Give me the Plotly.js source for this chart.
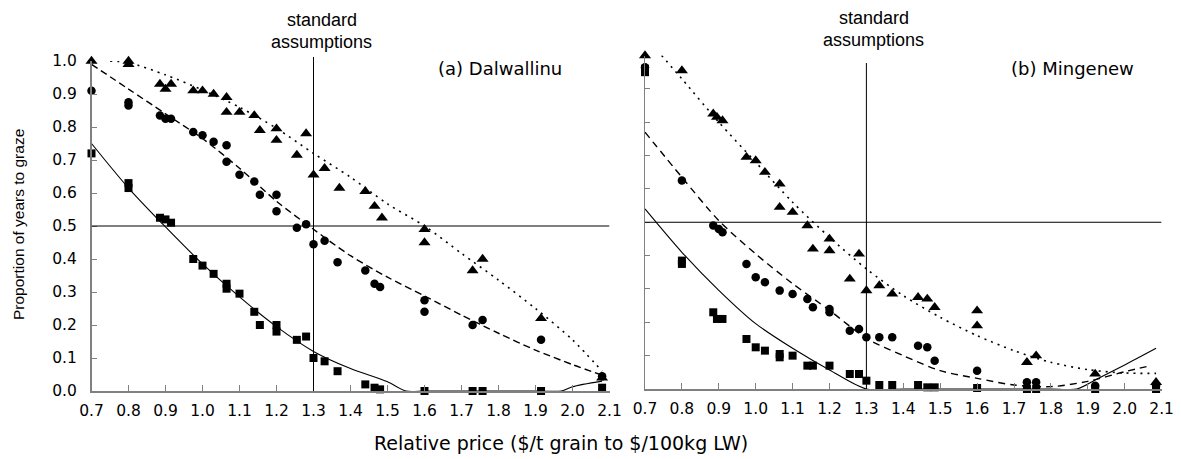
<!DOCTYPE html>
<html><head><meta charset="utf-8">
<script src="https://cdn.plot.ly/plotly-3.0.1.min.js"></script>
<style>html,body{margin:0;padding:0;background:#fff}#chart{width:1181px;height:459px}</style>
</head><body><div id="chart"></div>
<script>
// ---------- (a) Dalwallinu ----------
var dalTriX = [0.70, 0.80, 0.80, 0.885, 0.90, 0.915, 0.975, 1.00, 1.03, 1.065, 1.065, 1.10, 1.14, 1.155, 1.20, 1.20, 1.255, 1.28, 1.30, 1.33, 1.37, 1.44, 1.465, 1.485, 1.60, 1.60, 1.73, 1.757, 1.915, 2.08];
var dalTriY = [1.00, 1.00, 0.99, 0.93, 0.915, 0.93, 0.91, 0.91, 0.90, 0.89, 0.845, 0.845, 0.835, 0.79, 0.795, 0.76, 0.715, 0.78, 0.655, 0.675, 0.615, 0.605, 0.56, 0.525, 0.49, 0.45, 0.365, 0.40, 0.22, 0.04];
var dalCirX = [0.70, 0.80, 0.80, 0.885, 0.90, 0.915, 0.975, 1.00, 1.03, 1.065, 1.065, 1.10, 1.14, 1.155, 1.20, 1.20, 1.255, 1.28, 1.30, 1.33, 1.365, 1.44, 1.465, 1.48, 1.60, 1.60, 1.73, 1.757, 1.915, 2.08];
var dalCirY = [0.91, 0.875, 0.865, 0.835, 0.825, 0.825, 0.785, 0.775, 0.755, 0.745, 0.695, 0.655, 0.635, 0.595, 0.595, 0.545, 0.495, 0.505, 0.445, 0.455, 0.39, 0.365, 0.325, 0.315, 0.275, 0.24, 0.20, 0.215, 0.155, 0.045];
var dalSqX = [0.70, 0.80, 0.80, 0.885, 0.90, 0.915, 0.975, 1.00, 1.03, 1.065, 1.065, 1.10, 1.14, 1.155, 1.20, 1.20, 1.255, 1.28, 1.30, 1.33, 1.365, 1.44, 1.465, 1.48, 1.60, 1.73, 1.757, 1.915, 2.08];
var dalSqY = [0.72, 0.63, 0.615, 0.525, 0.52, 0.51, 0.40, 0.38, 0.355, 0.325, 0.31, 0.295, 0.24, 0.20, 0.20, 0.18, 0.155, 0.165, 0.10, 0.09, 0.06, 0.02, 0.01, 0.005, 0.0, 0.0, 0.0, 0.0, 0.01];
// fitted curves
var dalSolidX = [0.70, 0.80, 0.90, 1.00, 1.10, 1.20, 1.30, 1.40, 1.50, 1.55, 1.60, 1.70, 1.80, 1.90, 1.97, 2.00, 2.08];
var dalSolidY = [0.75, 0.615, 0.497, 0.385, 0.285, 0.195, 0.12, 0.068, 0.028, 0.0, 0.0, 0.0, 0.0, 0.0, 0.0, 0.013, 0.03];
var dalDashX = [0.70, 0.80, 0.90, 1.00, 1.10, 1.20, 1.30, 1.40, 1.50, 1.60, 1.70, 1.80, 1.90, 2.00, 2.08];
var dalDashY = [0.99, 0.915, 0.84, 0.765, 0.675, 0.575, 0.49, 0.41, 0.345, 0.288, 0.23, 0.175, 0.124, 0.08, 0.048];
var dalDotX = [0.75, 0.80, 0.90, 1.00, 1.10, 1.20, 1.30, 1.40, 1.50, 1.60, 1.70, 1.80, 1.90, 2.00, 2.08];
var dalDotY = [1.0, 0.995, 0.958, 0.912, 0.86, 0.796, 0.72, 0.648, 0.567, 0.50, 0.417, 0.336, 0.25, 0.155, 0.06];

// ---------- (b) Mingenew ----------
var minTriX = [0.70, 0.80, 0.885, 0.895, 0.91, 0.975, 1.00, 1.025, 1.065, 1.065, 1.10, 1.14, 1.155, 1.20, 1.20, 1.255, 1.28, 1.30, 1.335, 1.37, 1.44, 1.465, 1.485, 1.60, 1.60, 1.735, 1.76, 1.92, 2.085];
var minTriY = [1.00, 0.955, 0.825, 0.815, 0.805, 0.695, 0.685, 0.65, 0.615, 0.545, 0.53, 0.49, 0.42, 0.45, 0.415, 0.33, 0.405, 0.295, 0.31, 0.285, 0.275, 0.27, 0.245, 0.235, 0.19, 0.08, 0.10, 0.045, 0.02];
var minCirX = [0.70, 0.80, 0.885, 0.90, 0.91, 0.975, 1.00, 1.025, 1.065, 1.10, 1.14, 1.155, 1.20, 1.20, 1.255, 1.28, 1.30, 1.335, 1.37, 1.44, 1.465, 1.485, 1.60, 1.735, 1.76, 1.92, 2.085];
var minCirY = [0.965, 0.625, 0.49, 0.48, 0.47, 0.375, 0.335, 0.32, 0.295, 0.285, 0.27, 0.245, 0.24, 0.23, 0.175, 0.18, 0.155, 0.155, 0.155, 0.13, 0.125, 0.085, 0.055, 0.02, 0.02, 0.01, 0.01];
var minSqX = [0.70, 0.70, 0.80, 0.80, 0.885, 0.895, 0.91, 0.975, 1.00, 1.025, 1.065, 1.065, 1.10, 1.14, 1.155, 1.20, 1.255, 1.28, 1.30, 1.335, 1.37, 1.44, 1.465, 1.485, 1.60, 1.735, 1.76, 1.92, 2.085];
var minSqY = [0.96, 0.95, 0.385, 0.375, 0.23, 0.21, 0.21, 0.15, 0.125, 0.115, 0.105, 0.095, 0.10, 0.07, 0.07, 0.07, 0.045, 0.045, 0.025, 0.012, 0.012, 0.012, 0.005, 0.005, 0.003, 0.0, 0.0, 0.0, 0.0];
var minSolidX = [0.70, 0.80, 0.90, 1.00, 1.10, 1.20, 1.30, 1.40, 1.50, 1.60, 1.70, 1.80, 1.87, 1.92, 2.00, 2.085];
var minSolidY = [0.54, 0.41, 0.296, 0.196, 0.122, 0.057, 0.0, 0.0, 0.0, 0.0, 0.0, 0.0, 0.0, 0.027, 0.072, 0.122];
var minDashX = [0.70, 0.80, 0.90, 1.00, 1.10, 1.20, 1.30, 1.40, 1.50, 1.60, 1.70, 1.80, 1.90, 2.00, 2.07];
var minDashY = [0.77, 0.635, 0.505, 0.405, 0.316, 0.236, 0.152, 0.10, 0.055, 0.032, 0.012, 0.007, 0.023, 0.052, 0.07];
var minDotX = [0.745, 0.80, 0.90, 1.00, 1.10, 1.20, 1.30, 1.40, 1.50, 1.60, 1.70, 1.80, 1.90, 2.00, 2.085];
var minDotY = [1.0, 0.93, 0.80, 0.68, 0.56, 0.455, 0.36, 0.28, 0.215, 0.16, 0.115, 0.08, 0.058, 0.048, 0.047];

var xTickVals = [0.7, 0.8, 0.9, 1.0, 1.1, 1.2, 1.3, 1.4, 1.5, 1.6, 1.7, 1.8, 1.9, 2.0, 2.1];
var xTickText = ['0.7','0.8','0.9','1.0','1.1','1.2','1.3','1.4','1.5','1.6','1.7','1.8','1.9','2.0','2.1'];
var yTickVals = [0, 0.1, 0.2, 0.3, 0.4, 0.5, 0.6, 0.7, 0.8, 0.9, 1.0];
var yTickText = ['0.0','0.1','0.2','0.3','0.4','0.5','0.6','0.7','0.8','0.9','1.0'];
var panelLabels = ['(a) Dalwallinu', '(b) Mingenew'];
var refPrice = 1.3, refProp = 0.5;

function lineTrace(x, y, dash, w, xa, ya) {
  return {x: x, y: y, type: 'scatter', mode: 'lines', xaxis: xa, yaxis: ya,
    line: {color: '#000', width: w, dash: dash, shape: 'spline', smoothing: 0.8}, hoverinfo: 'skip'};
}
function markTrace(x, y, sym, size, xa, ya) {
  return {x: x, y: y, type: 'scatter', mode: 'markers', xaxis: xa, yaxis: ya, cliponaxis: false,
    marker: {symbol: sym, size: size, color: '#000', line: {width: 0}}};
}

var data = [
  lineTrace(dalSolidX, dalSolidY, 'solid', 1.1, 'x', 'y'),
  lineTrace(dalDashX, dalDashY, '7px,4px', 1.4, 'x', 'y'),
  lineTrace(dalDotX, dalDotY, '2px,5px', 1.6, 'x', 'y'),
  markTrace(dalSqX, dalSqY, 'square', 8, 'x', 'y'),
  markTrace(dalCirX, dalCirY, 'circle', 8.5, 'x', 'y'),
  markTrace(dalTriX, dalTriY, 'triangle-up', 10.5, 'x', 'y'),
  lineTrace(minSolidX, minSolidY, 'solid', 1.1, 'x2', 'y2'),
  lineTrace(minDashX, minDashY, '7px,5px', 1.4, 'x2', 'y2'),
  lineTrace(minDotX, minDotY, '2px,5px', 1.6, 'x2', 'y2'),
  markTrace(minSqX, minSqY, 'square', 8, 'x2', 'y2'),
  markTrace(minCirX, minCirY, 'circle', 8.5, 'x2', 'y2'),
  markTrace(minTriX, minTriY, 'triangle-up', 10.5, 'x2', 'y2')
];

var W = 1181, H = 459;
function px(v) { return v / W; }
function py(v) { return (H - v) / H; }

var tickFont = {family: 'DejaVu Sans', size: 15.5, color: '#000'};
function xAxis(d0, d1, anchor) {
  return {domain: [px(d0), px(d1)], range: [0.7, 2.1], anchor: anchor,
    tickmode: 'array', tickvals: xTickVals, ticktext: xTickText,
    ticks: 'inside', ticklen: 6, tickwidth: 1, tickcolor: '#808080',
    showline: true, linecolor: '#808080', linewidth: 1.5,
    showgrid: false, zeroline: false, tickfont: tickFont, ticklabelstandoff: 5, fixedrange: true};
}
function yAxis(b, t, anchor, labels) {
  return {domain: [py(b), py(t)], range: [0, 1], anchor: anchor,
    tickmode: 'array', tickvals: yTickVals, ticktext: yTickText, showticklabels: labels,
    ticks: 'inside', ticklen: 5, tickwidth: 1, tickcolor: '#808080',
    showline: true, linecolor: '#808080', linewidth: 1.5,
    showgrid: false, zeroline: false, tickfont: tickFont, ticklabelstandoff: 10, fixedrange: true};
}

var layout = {
  width: W, height: H, margin: {l: 0, r: 0, t: 0, b: 0},
  paper_bgcolor: '#fff', plot_bgcolor: 'rgba(0,0,0,0)', showlegend: false,
  xaxis: xAxis(91.5, 609.5, 'y'),
  yaxis: yAxis(391, 61, 'x', true),
  xaxis2: xAxis(645, 1161.6, 'y2'),
  yaxis2: yAxis(389, 55.5, 'x2', false),
  shapes: [
    {type: 'line', xref: 'x', yref: 'y', x0: 0.7, x1: 2.1, y0: refProp, y1: refProp, line: {color: '#000', width: 1}},
    {type: 'line', xref: 'x2', yref: 'y2', x0: 0.7, x1: 2.1, y0: refProp, y1: refProp, line: {color: '#000', width: 1}},
    {type: 'line', xref: 'x', yref: 'paper', x0: refPrice, x1: refPrice, y0: py(391), y1: py(57), line: {color: '#000', width: 1}},
    {type: 'line', xref: 'x2', yref: 'paper', x0: refPrice, x1: refPrice, y0: py(389), y1: py(63), line: {color: '#000', width: 1}}
  ],
  annotations: [
    {text: 'standard', xref: 'x', yref: 'paper', x: 1.322, y: py(28), xanchor: 'center', yanchor: 'bottom', showarrow: false,
      font: {family: 'Liberation Sans', size: 18, color: '#000'}, yshift: -4},
    {text: 'assumptions', xref: 'x', yref: 'paper', x: 1.322, y: py(50), xanchor: 'center', yanchor: 'bottom', showarrow: false,
      font: {family: 'Liberation Sans', size: 18, color: '#000'}, yshift: -4},
    {text: 'standard', xref: 'x2', yref: 'paper', x: 1.32, y: py(26), xanchor: 'center', yanchor: 'bottom', showarrow: false,
      font: {family: 'Liberation Sans', size: 18, color: '#000'}, yshift: -4},
    {text: 'assumptions', xref: 'x2', yref: 'paper', x: 1.32, y: py(48), xanchor: 'center', yanchor: 'bottom', showarrow: false,
      font: {family: 'Liberation Sans', size: 18, color: '#000'}, yshift: -4},
    {text: panelLabels[0], xref: 'paper', yref: 'paper', x: px(500), y: py(68), xanchor: 'center', yanchor: 'middle', showarrow: false,
      font: {family: 'DejaVu Sans', size: 18, color: '#000'}},
    {text: panelLabels[1], xref: 'paper', yref: 'paper', x: px(1072.5), y: py(68), xanchor: 'center', yanchor: 'middle', showarrow: false,
      font: {family: 'DejaVu Sans', size: 18, color: '#000'}},
    {text: 'Proportion of years to graze', xref: 'paper', yref: 'paper', x: px(18), y: py(225), xanchor: 'center', yanchor: 'middle',
      textangle: -90, showarrow: false, font: {family: 'Liberation Sans', size: 15.5, color: '#000'}},
    {text: 'Relative price ($/t grain to $/100kg LW)', xref: 'paper', yref: 'paper', x: px(561), y: py(443), xanchor: 'center', yanchor: 'middle',
      showarrow: false, font: {family: 'DejaVu Sans', size: 19, color: '#000'}}
  ]
};

Plotly.newPlot('chart', data, layout, {staticPlot: true, displayModeBar: false});
</script></body></html>
